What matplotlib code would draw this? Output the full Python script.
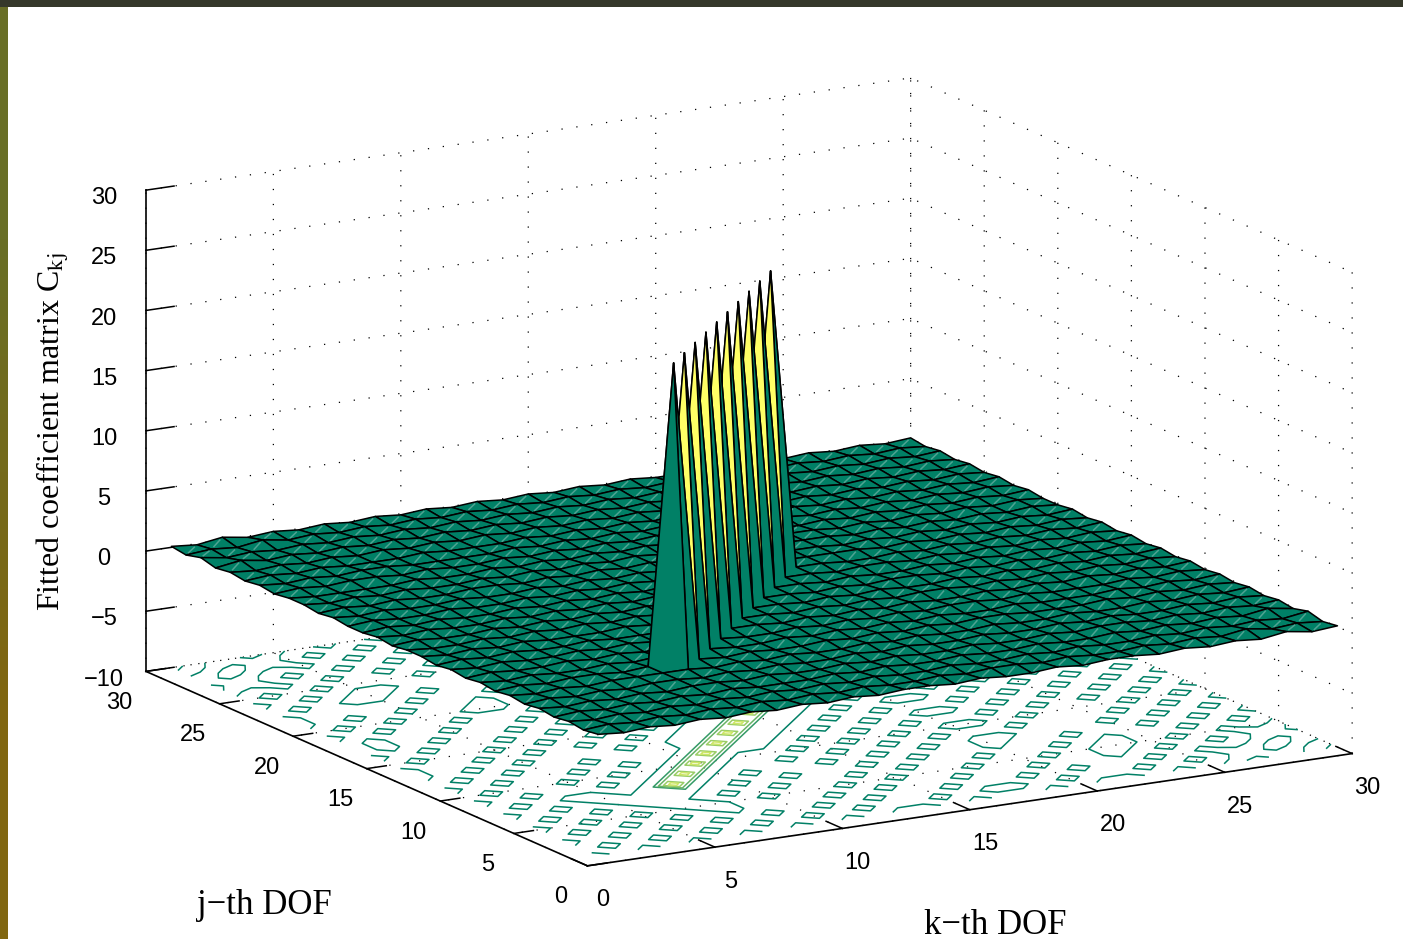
import numpy as np
import matplotlib
matplotlib.use("Agg")
import matplotlib.pyplot as plt
from matplotlib.patches import Rectangle
from mpl_toolkits.mplot3d.art3d import Poly3DCollection

# Upper triangle of the symmetric fitted matrix C_kj, one string per j (from k=j to 30).
# '+' small positive, '-' small negative, 'H' larger positive, 'P' ridge value.
upper_rows = [
    "+-+-+-+-+-+-+" "+-+-" "-+-+" "+-+-+-H-+",
    "+-+-+-+-+-+-" "-+-+" "+-+-" "-+-+-H-+-",
    "+-+-+-+-+-+-" "-+-" "-+-+-" "-+-+-+-H",
    "+-+-+-" "-" "-+-+-" "-+-" "-+-" "-+-+-+-H-",
    "+-+" "+-+-" "-+-+-" "-+-" "-+-+" "+-+-+-+",
    "+" "+-+-+-" "-+-+-" "-+-" "-+-+-" "-+-+-",
    "+" "+-+-+-" "-+-+-" "-+-" "-+-" "-+-+-+",
    "P" "+-+-" "-+-+-+-+" "+-" "-" "-+-+-+-",
    "P" "+-" "-+-+-+-+-" "-+-" "-" "-+-+-+",
    "P" "+-" "-+-+-+-+" "+-+-" "-" "-+-+-",
    "P+" "+-+-+-+-" "-+-+-+-+-+",
    "P+" "+-+-+-+" "+-+-+-+-+-",
    "P+" "+-+-+-" "-+-+-+-+-+",
    "P+" "+-+-+" "+-+-+-+-+-",
    "P+" "+-+-" "-+-+-+-+-+",
    "P+" "+-+" "+-+-+-+-+-",
    "P+" "+-" "-+-+-+-+-+",
    "+++" "+-+-+-+-+-",
    "++" "-+-+-+-+-+",
    "+" "+-+-+-+-+-",
    "+-+-+-+-+-",
    "+-+-+-+-+",
    "+-+-+-+-",
    "+-+-+-+",
    "+-+-+-",
    "+-+-+",
    "+-+-",
    "+-+",
    "+-",
    "+",
]
symbol_values = {"+": 0.08, "-": -0.10, "H": 0.22, "P": 25.0}
k_values = list(range(1, 31))
j_values = list(range(1, 31))
k_ticks = [0, 5, 10, 15, 20, 25, 30]
j_ticks = [0, 5, 10, 15, 20, 25, 30]
z_ticks = [-10, -5, 0, 5, 10, 15, 20, 25, 30]
contour_levels = [0, 5, 10, 15, 20]

n = len(k_values)
C = np.zeros((n, n))
for row, text in enumerate(upper_rows):
    for offset, ch in enumerate(text):
        C[row, row + offset] = symbol_values[ch]
        C[row + offset, row] = symbol_values[ch]
K, J = np.meshgrid(k_values, j_values)

plt.rcParams["font.family"] = ["Liberation Sans", "DejaVu Sans"]
plt.rcParams["grid.color"] = "#000000"
plt.rcParams["grid.linewidth"] = 0.9
plt.rcParams["grid.linestyle"] = (0, (1, 11))

W, H = 1403, 939
fig = plt.figure(figsize=(W / 100, H / 100), dpi=100, facecolor="white")

P = 1305
ax = fig.add_axes([78.9 / W, -203 / H, P / W, P / H], projection="3d", proj_type="ortho")
ax.patch.set_alpha(0)
ax.view_init(elev=14.73, azim=-120)
ax.set_box_aspect((1, 1, 0.5635))
ax.set_xlim(0, 30, view_margin=0)
ax.set_ylim(0, 30, view_margin=0)
ax.set_zlim(-10, 30, view_margin=0)
ax.set_xticks(k_ticks)
ax.set_yticks(j_ticks)
ax.set_zticks(z_ticks)
ax.computed_zorder = False
ax.tick_params(axis="both", labelsize=17, pad=9)

for axis, out in ((ax.xaxis, 0.46), (ax.yaxis, 0.32), (ax.zaxis, 0.46)):
    axis.set_pane_color((1, 1, 1, 0))
    axis.pane.set_edgecolor("none")
    axis.line.set_color("black")
    axis.line.set_linewidth(1.2)
    axis._axinfo["tick"]["inward_factor"] = 0.0
    axis._axinfo["tick"]["outward_factor"] = out
    axis._axinfo["tick"]["linewidth"] = {True: 1.1, False: 0.8}

cmap = plt.get_cmap("summer")
norm = plt.Normalize(C.min(), C.max())

cs = ax.contour(K, J, C, levels=contour_levels, zdir="z", offset=-10,
                cmap=cmap, norm=norm, linewidths=1.1, zorder=1)

polys, faces, edges = [], [], []
seam = "#4fa392"
for a in range(n - 1):
    for b in range(n - 1):
        corners = [(K[a, b], J[a, b], C[a, b]),
                   (K[a, b + 1], J[a, b + 1], C[a, b + 1]),
                   (K[a + 1, b + 1], J[a + 1, b + 1], C[a + 1, b + 1]),
                   (K[a + 1, b], J[a + 1, b], C[a + 1, b])]
        polys.append(corners)
        faces.append(cmap(norm(C[a, b])))
        edges.append("black")
        if np.ptp(C[a:a + 2, b:b + 2]) < 1:
            p0 = np.array(corners[0], float)
            p2 = np.array(corners[2], float)
            s = p0 + 0.18 * (p2 - p0) - [0.01, 0.01, 0]
            e = p0 + 0.82 * (p2 - p0) - [0.01, 0.01, 0]
            polys.append([tuple(s), tuple(e), tuple(e), tuple(s)])
            faces.append((0, 0, 0, 0))
            edges.append(seam)

surface = Poly3DCollection(polys, facecolors=faces, edgecolors=edges,
                           linewidths=1.1, zsort="average", zorder=2)
ax.add_collection3d(surface)

fig.text(264 / W, 1 - 905 / H, "j\u2212th DOF", family="Liberation Serif", fontsize=25,
         ha="center", va="center")
fig.text(995 / W, 1 - 925 / H, "k\u2212th DOF", family="Liberation Serif", fontsize=25,
         ha="center", va="center")
plt.rcParams["mathtext.fontset"] = "stix"
fig.text(53 / W, 1 - 432 / H, r"Fitted coefficient matrix C$_{\mathrm{kj}}$",
         family="Liberation Serif", fontsize=23, rotation=90, ha="center", va="center")

fig.add_artist(Rectangle((0, 1 - 7 / H), 1, 7 / H, transform=fig.transFigure,
                         facecolor="#35382a", edgecolor="none"))
band = fig.add_axes([0, 0, 8 / W, 1 - 7 / H])
band.axis("off")
band_top, band_bottom = np.array([0x68, 0x6e, 0x26]), np.array([0x80, 0x66, 0x10])
band.imshow(np.stack([band_top, band_bottom])[:, None, :].astype(np.uint8),
            aspect="auto", interpolation="bilinear")

fig.savefig("out.png", dpi=100)
